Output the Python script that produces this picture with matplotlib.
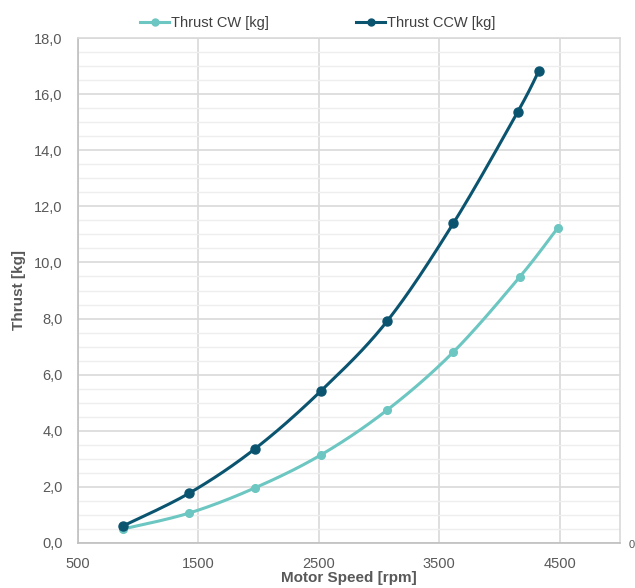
import numpy as np
import matplotlib
matplotlib.use("Agg")
import matplotlib.pyplot as plt
from matplotlib.ticker import MultipleLocator, FuncFormatter

rpm_cw = [875, 1425, 1967, 2517, 3067, 3617, 4167, 4483]
thrust_cw = [0.50, 1.07, 1.96, 3.14, 4.74, 6.81, 9.48, 11.23]
rpm_ccw = [875, 1425, 1967, 2517, 3067, 3617, 4150, 4325]
thrust_ccw = [0.61, 1.78, 3.35, 5.42, 7.91, 11.40, 15.36, 16.82]
x_ticks = [500, 1500, 2500, 3500, 4500]
labels = ["Thrust CW [kg]", "Thrust CCW [kg]"]
c_cw = "#6cc6c1"
c_ccw = "#0b5470"

plt.rcParams['font.family'] = ['Liberation Sans', 'DejaVu Sans']


def smooth(x, y, n=30):
    x = np.asarray(x, float); y = np.asarray(y, float)
    P = np.column_stack([x, y])
    out = []
    for i in range(len(P) - 1):
        p0 = P[i - 1] if i > 0 else P[i]
        p1 = P[i]; p2 = P[i + 1]
        p3 = P[i + 2] if i + 2 < len(P) else P[i + 1]
        t = np.linspace(0, 1, n)[:, None]
        m1 = (p2 - p0) / 2
        m2 = (p3 - p1) / 2
        h00 = 2*t**3 - 3*t**2 + 1; h10 = t**3 - 2*t**2 + t
        h01 = -2*t**3 + 3*t**2; h11 = t**3 - t**2
        seg = h00*p1 + h10*m1 + h01*p2 + h11*m2
        out.append(seg if i == 0 else seg[1:])
    S = np.vstack(out)
    return S[:, 0], S[:, 1]


fig = plt.figure(figsize=(6.35, 5.88), dpi=100)
ax = fig.add_axes([78/635, 45/588, 542/635, 505/588])

for xs, ys, c, lab in [(rpm_cw, thrust_cw, c_cw, labels[0]), (rpm_ccw, thrust_ccw, c_ccw, labels[1])]:
    sx, sy = smooth(xs, ys)
    ax.plot(sx, sy, color=c, lw=2.2, zorder=3)
    ax.plot(xs, ys, 'o', color=c, ms=6.5 if c == c_ccw else 5.5, zorder=4)
    ax.plot([], [], '-o', color=c, lw=2.2, ms=5, label=lab)

ax.set_xlim(500, 5000)
ax.set_ylim(0, 18)
ax.set_xticks(x_ticks)
ax.yaxis.set_major_locator(MultipleLocator(2))
ax.yaxis.set_minor_locator(MultipleLocator(0.5))
ax.yaxis.set_major_formatter(FuncFormatter(lambda v, p: f"{v:.1f}".replace('.', ',')))
ax.grid(True, which='major', color='#d9d9d9', lw=1.2)
ax.grid(True, which='minor', axis='y', color='#eeeeee', lw=1.0)
ax.set_axisbelow(True)
for s in ax.spines.values():
    s.set_color('#d9d9d9'); s.set_linewidth(1.2)
ax.spines['left'].set_color('#bfbfbf')
ax.spines['bottom'].set_color('#bfbfbf')
ax.tick_params(which='both', length=0, labelsize=10.5, colors='#595959')
ax.tick_params(axis='x', pad=10)
ax.tick_params(axis='y', pad=11)
ax.set_xlabel("Motor Speed [rpm]", fontsize=11, fontweight='bold', color='#595959', labelpad=0)
ax.set_ylabel("Thrust [kg]", fontsize=11, fontweight='bold', color='#595959', labelpad=6)
fig.text(629/635, 1 - 545/588, "0", fontsize=8, color='#595959', ha='left', va='center')

leg = fig.legend(loc='upper center', bbox_to_anchor=(0.5, 0.995), ncol=2, frameon=False,
                 fontsize=10.5, handlelength=2.0, handletextpad=0.1, columnspacing=6.0)
for t in leg.get_texts():
    t.set_color('#404040')

fig.savefig("out.png", dpi=100, facecolor='white')
